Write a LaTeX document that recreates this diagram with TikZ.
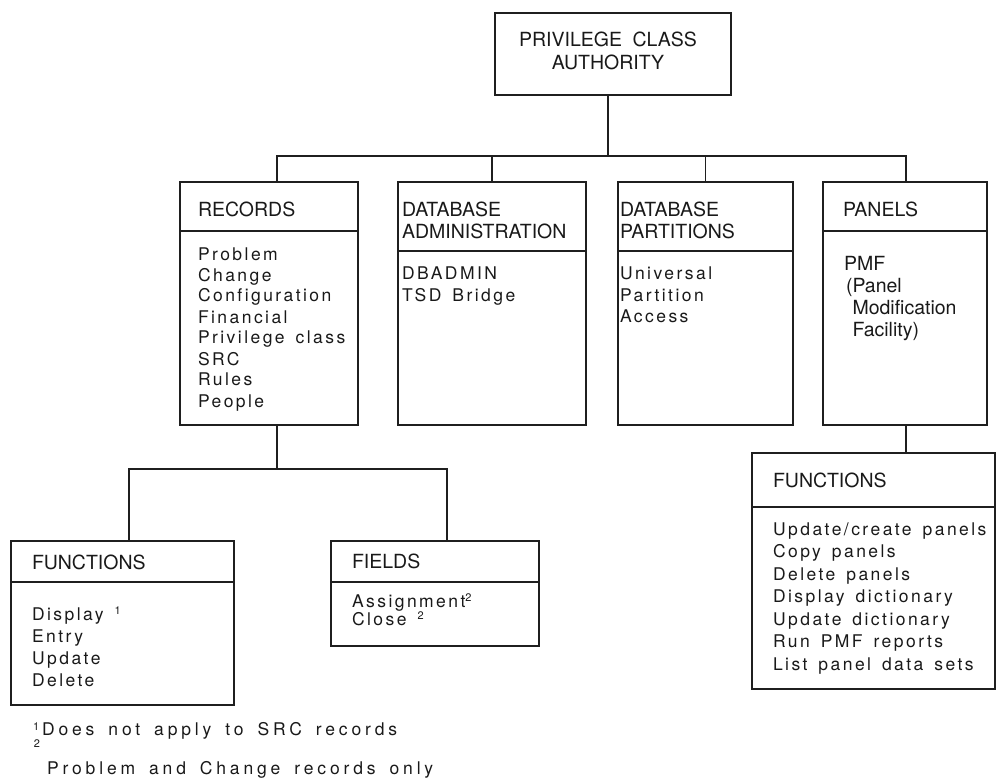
\documentclass[tikz,border=0pt]{standalone}
\usepackage{fontspec}
\setmainfont{TeX Gyre Heros}
\newfontfamily\hdfont[Ligatures=NoCommon]{TeX Gyre Heros}
\newfontfamily\bdfont[Ligatures=NoCommon,LetterSpace=14,WordSpace=1.5]{TeX Gyre Heros}
\newfontfamily\ftfont[Ligatures=NoCommon,LetterSpace=22,WordSpace=1.6]{TeX Gyre Heros}
% small raised footnote marker
\newcommand\smallmark[2][6pt]{\raisebox{#1}{\hdfont\fontsize{11}{11}\selectfont #2}}
\begin{document}
\begin{tikzpicture}[x=1pt,y=-1pt,
  line/.style={draw=black!88, line width=1.1pt},
  box/.style={line, rectangle, inner sep=0pt, outer sep=0pt, anchor=north west},
  hd/.style={font=\hdfont\fontsize{19.5}{#1}\selectfont, inner sep=0pt, outer sep=0pt,
             align=left, anchor=base west, text=black!90},
  hd/.default=22,
  bd/.style={font=\bdfont\fontsize{17.5}{#1}\selectfont, inner sep=0pt, outer sep=0pt,
             align=left, anchor=base west, text=black!90},
  bd/.default=21,
  ft/.style={font=\ftfont\fontsize{17.5}{21}\selectfont, inner sep=0pt, outer sep=0pt,
             anchor=base west, text=black!90}]
\useasboundingbox (0,0) rectangle (996,783);

% boxes
\node[box, minimum width=236pt, minimum height=82pt]  (pca) at (495,13)  {};
\node[box, minimum width=178pt, minimum height=243pt] (rec) at (180,182) {};
\node[box, minimum width=188pt, minimum height=243pt] (dba) at (398,182) {};
\node[box, minimum width=175pt, minimum height=243pt] (dbp) at (618,182) {};
\node[box, minimum width=164pt, minimum height=243pt] (pan) at (823,182) {};
\node[box, minimum width=223pt, minimum height=164pt] (fnl) at (11,541)  {};
\node[box, minimum width=208pt, minimum height=105pt] (fld) at (331,541) {};
\node[box, minimum width=243pt, minimum height=236pt] (fnr) at (752,453) {};

% header dividers
\draw[line] ([yshift=-49pt]rec.north west) -- ([yshift=-49pt]rec.north east);
\draw[line] ([yshift=-69pt]dba.north west) -- ([yshift=-69pt]dba.north east);
\draw[line] ([yshift=-69pt]dbp.north west) -- ([yshift=-69pt]dbp.north east);
\draw[line] ([yshift=-49pt]pan.north west) -- ([yshift=-49pt]pan.north east);
\draw[line] ([yshift=-41pt]fnl.north west) -- ([yshift=-41pt]fnl.north east);
\draw[line] ([yshift=-41pt]fld.north west) -- ([yshift=-41pt]fld.north east);
\draw[line] ([yshift=-54pt]fnr.north west) -- ([yshift=-54pt]fnr.north east);

% texts (multi-line nodes are placed by the baseline of their last line)
\node[hd=23, align=center, anchor=base] (pca-t) at (608,70) {PRIVILEGE\hspace{10.5pt}CLASS\\AUTHORITY};

\node[hd] (rec-h) at (198,217) {RECORDS};
\node[bd] (rec-b) at (198,407) {Problem\\Change\\Configuration\\Financial\\Privilege class\\SRC\\Rules\\People};

\node[hd] (dba-h) at (402,239) {DATABASE\\ADMINISTRATION};
\node[bd=22] (dba-b) at (402,302) {DBADMIN\\TSD Bridge};

\node[hd] (dbp-h) at (620,239) {DATABASE\\PARTITIONS};
\node[bd=21.5] (dbp-b) at (620,323) {Universal\\Partition\\Access};

\node[hd] (pan-h) at (843,217) {PANELS};
\node[hd=22.3] (pan-b) at (844,337) {PMF\\\hspace*{2pt}(Panel\\\hspace*{8.5pt}Modification\\\hspace*{8.5pt}Facility)};

\node[hd] (fnl-h) at (32,569) {FUNCTIONS};
\node[bd=22] (fnl-b) at (32,686) {Display \smallmark{1}\\Entry\\Update\\Delete};

\node[hd] (fld-h) at (352,568) {FIELDS};
\node[bd=18] (fld-b) at (352,625) {Assignment\smallmark{2}\\Close \smallmark{2}};

\node[hd] (fnr-h) at (773,487) {FUNCTIONS};
\node[bd=22.5] (fnr-b) at (773,670) {Update/create panels\\Copy panels\\Delete panels\\Display dictionary\\Update dictionary\\Run PMF reports\\List panel data sets};

% footnotes
\node[ft] (note1) at (33,735) {\smallmark[5pt]{1}\hspace*{3pt}Does not apply to SRC records};
\node[hd, font=\hdfont\fontsize{11}{11}\selectfont] (note2m) at (34,747) {2};
\node[ft] (note2) at (47,774) {Problem and Change records only};

% connectors
\draw[line] ([xshift=8pt]rec.north) -- ++(0,-26) coordinate (busL) -| ([xshift=1pt]pan.north);
\draw[line] ([xshift=-5pt]pca.south) -- ([xshift=-5pt]pca.south |- busL);
\draw[line] (dba.north) -- (dba.north |- busL);
\draw[line] (dbp.north) -- (dbp.north |- busL);

\draw[line] ([xshift=8pt]rec.south) -- ++(0,44) coordinate (busR);
\draw[line] ([xshift=6.5pt]fnl.north) |- (busR) -| ([xshift=12pt]fld.north);

\draw[line] ([xshift=1pt]pan.south) -- ([xshift=1pt]pan.south |- fnr.north);
\end{tikzpicture}
\end{document}
